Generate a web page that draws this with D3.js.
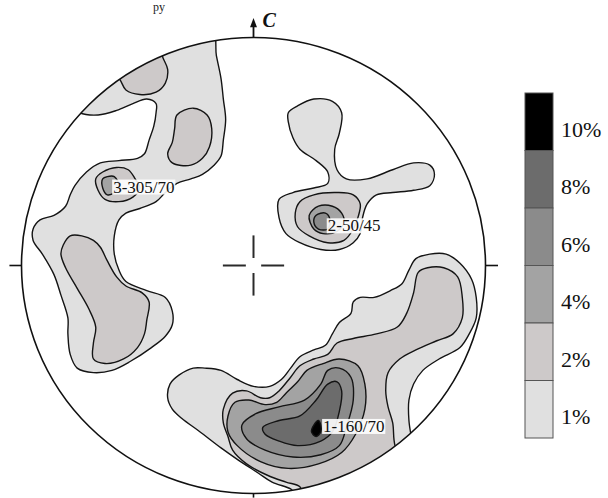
<!DOCTYPE html>
<html>
<head>
<meta charset="utf-8">
<script src="https://cdn.jsdelivr.net/npm/d3@7"></script>
<style>
body{margin:0;background:#fff;}
svg{display:block;}
</style>
</head>
<body>
<div id="net"></div>
<script>
// contour levels, legend order top -> bottom
var levels = ["10%","8%","6%","4%","2%","1%"];
var levelFill = {"1%":"#e0e0e0","2%":"#cdc9c9","4%":"#a3a3a3","6%":"#8b8b8b","8%":"#6c6c6c","10%":"#000000"};

// contour outlines in net coordinates (unit circle, y up)
var westBand1 = [[-0.18,1.03],[-0.16,0.92],[-0.14,0.82],[-0.13,0.73],[-0.12,0.64],[-0.13,0.55],[-0.14,0.48],[-0.17,0.44],
  [-0.22,0.40],[-0.27,0.38],[-0.33,0.36],[-0.38,0.32],[-0.42,0.28],[-0.49,0.25],[-0.55,0.23],[-0.58,0.20],[-0.60,0.13],
  [-0.60,0.05],[-0.58,-0.02],[-0.55,-0.07],[-0.46,-0.11],[-0.38,-0.14],[-0.35,-0.20],[-0.35,-0.26],[-0.38,-0.31],
  [-0.44,-0.36],[-0.53,-0.42],[-0.61,-0.46],[-0.69,-0.47],[-0.76,-0.45],[-0.79,-0.39],[-0.80,-0.30],[-0.80,-0.23],
  [-0.83,-0.13],[-0.86,-0.04],[-0.91,0.05],[-0.95,0.11],[-0.95,0.16],[-0.92,0.20],[-0.86,0.22],[-0.81,0.26],[-0.79,0.31],
  [-0.77,0.35],[-0.72,0.41],[-0.66,0.45],[-0.58,0.46],[-0.50,0.47],[-0.47,0.49],[-0.45,0.55],[-0.43,0.61],[-0.42,0.67],
  [-0.42,0.71],[-0.46,0.73],[-0.52,0.71],[-0.59,0.68],[-0.67,0.66],[-0.75,0.67],[-0.85,0.75],[-0.50,1.00]];
var westCap2 = [[-0.58,0.82],[-0.55,0.77],[-0.49,0.75],[-0.42,0.76],[-0.38,0.80],[-0.37,0.86],[-0.39,0.91],
  [-0.42,0.99],[-0.55,0.93],[-0.63,0.84]];
var westPod2 = [[-0.33,0.66],[-0.26,0.69],[-0.20,0.66],[-0.18,0.60],[-0.19,0.52],[-0.22,0.47],[-0.27,0.44],
  [-0.35,0.45],[-0.37,0.49],[-0.35,0.54],[-0.34,0.60]];
var westMax2 = [[-0.68,0.38],[-0.65,0.41],[-0.59,0.43],[-0.54,0.42],[-0.51,0.38],[-0.49,0.34],[-0.52,0.30],
  [-0.58,0.28],[-0.64,0.29],[-0.67,0.33]];
var westMax4 = [[-0.65,0.38],[-0.63,0.39],[-0.60,0.39],[-0.58,0.35],[-0.60,0.32],[-0.63,0.31],[-0.65,0.34]];
var westLong2 = [[-0.82,0.09],[-0.79,0.13],[-0.74,0.13],[-0.69,0.11],[-0.66,0.08],[-0.63,0.02],[-0.59,-0.05],
  [-0.55,-0.09],[-0.48,-0.12],[-0.45,-0.16],[-0.46,-0.24],[-0.47,-0.30],[-0.50,-0.36],[-0.56,-0.41],[-0.64,-0.43],
  [-0.69,-0.41],[-0.69,-0.34],[-0.68,-0.27],[-0.71,-0.19],[-0.76,-0.10],[-0.81,-0.01],[-0.83,0.05]];

var northLobe1 = [[0.15,0.67],[0.19,0.70],[0.26,0.73],[0.34,0.72],[0.38,0.67],[0.37,0.58],[0.35,0.51],[0.36,0.42],
  [0.40,0.38],[0.49,0.38],[0.60,0.42],[0.69,0.45],[0.76,0.44],[0.78,0.40],[0.76,0.35],[0.69,0.33],[0.60,0.32],
  [0.53,0.31],[0.49,0.27],[0.47,0.21],[0.46,0.14],[0.43,0.10],[0.37,0.07],[0.29,0.07],[0.20,0.10],[0.14,0.14],
  [0.11,0.21],[0.11,0.29],[0.17,0.32],[0.26,0.34],[0.32,0.36],[0.32,0.41],[0.27,0.46],[0.20,0.51],[0.17,0.56],[0.15,0.63]];
var northMax2 = [[0.20,0.28],[0.26,0.31],[0.36,0.32],[0.43,0.31],[0.46,0.27],[0.45,0.21],[0.43,0.16],[0.39,0.11],
  [0.32,0.10],[0.24,0.13],[0.19,0.17],[0.18,0.23]];
var northMax4 = [[0.24,0.22],[0.28,0.26],[0.34,0.26],[0.38,0.23],[0.39,0.19],[0.36,0.15],[0.30,0.14],[0.26,0.16]];
var northMax6 = [[0.26,0.19],[0.27,0.22],[0.31,0.23],[0.33,0.20],[0.32,0.16],[0.28,0.16]];

var southBand1 = [[-0.37,-0.58],[-0.36,-0.52],[-0.32,-0.48],[-0.26,-0.45],[-0.21,-0.45],[-0.14,-0.46],[-0.07,-0.50],
  [0.00,-0.53],[0.07,-0.53],[0.12,-0.50],[0.16,-0.45],[0.20,-0.40],[0.26,-0.37],[0.31,-0.35],[0.34,-0.30],[0.37,-0.25],
  [0.42,-0.21],[0.43,-0.16],[0.46,-0.14],[0.52,-0.14],[0.59,-0.11],[0.64,-0.08],[0.67,-0.02],[0.70,0.03],[0.76,0.05],
  [0.83,0.05],[0.89,0.01],[0.94,-0.06],[0.96,-0.14],[0.96,-0.23],[0.93,-0.30],[0.89,-0.36],[0.80,-0.41],[0.73,-0.46],
  [0.69,-0.52],[0.67,-0.59],[0.67,-0.68],[0.68,-0.75],[0.70,-0.85],[0.35,-1.05],[0.18,-1.00],[0.16,-0.98],[0.08,-0.95],
  [0.02,-0.91],[-0.07,-0.85],[-0.14,-0.80],[-0.23,-0.73],[-0.31,-0.67],[-0.35,-0.63]];
var southBand2 = [[-0.13,-0.63],[-0.09,-0.56],[-0.03,-0.55],[0.03,-0.58],[0.07,-0.58],[0.11,-0.55],[0.16,-0.49],
  [0.20,-0.44],[0.26,-0.41],[0.32,-0.39],[0.36,-0.34],[0.43,-0.32],[0.53,-0.30],[0.62,-0.27],[0.66,-0.21],[0.69,-0.12],
  [0.71,-0.03],[0.75,-0.01],[0.82,-0.01],[0.88,-0.05],[0.90,-0.14],[0.90,-0.23],[0.86,-0.30],[0.79,-0.33],[0.70,-0.37],
  [0.63,-0.41],[0.58,-0.47],[0.57,-0.55],[0.58,-0.62],[0.60,-0.69],[0.61,-0.79],[0.66,-0.90],[0.40,-1.05],[0.22,-1.02],
  [0.20,-0.97],[0.14,-0.95],[0.06,-0.92],[-0.03,-0.87],[-0.09,-0.81],[-0.11,-0.75],[-0.13,-0.69]];
var southMax4 = [[-0.11,-0.66],[-0.08,-0.60],[-0.02,-0.59],[0.05,-0.61],[0.10,-0.60],[0.14,-0.56],[0.19,-0.51],
  [0.23,-0.46],[0.30,-0.43],[0.37,-0.41],[0.45,-0.44],[0.48,-0.52],[0.48,-0.63],[0.44,-0.74],[0.38,-0.82],[0.28,-0.87],
  [0.15,-0.89],[0.03,-0.86],[-0.07,-0.79],[-0.11,-0.73]];
var southMax6 = [[-0.05,-0.70],[0.01,-0.65],[0.11,-0.62],[0.22,-0.59],[0.29,-0.52],[0.32,-0.46],[0.37,-0.45],
  [0.42,-0.49],[0.43,-0.59],[0.40,-0.71],[0.37,-0.79],[0.29,-0.83],[0.17,-0.84],[0.05,-0.81],[-0.03,-0.76]];
var southMax8 = [[0.04,-0.71],[0.11,-0.68],[0.20,-0.66],[0.27,-0.59],[0.32,-0.52],[0.36,-0.51],[0.38,-0.55],
  [0.37,-0.64],[0.34,-0.73],[0.29,-0.77],[0.19,-0.79],[0.11,-0.77],[0.05,-0.74]];
var southMax10 = [[0.25,-0.73],[0.26,-0.70],[0.28,-0.68],[0.29,-0.70],[0.29,-0.73],[0.27,-0.75]];

// density maxima labels (text start, baseline)
var maxLabels = ["1-160/70","2-50/45","3-305/70"];
var maxLabelX = [0.30, 0.32, -0.605];
var maxLabelY = [-0.73, 0.15, 0.32];

var contours = [
  {level:"1%", pts:westBand1}, {level:"1%", pts:northLobe1}, {level:"1%", pts:southBand1},
  {level:"2%", pts:westCap2}, {level:"2%", pts:westPod2}, {level:"2%", pts:westMax2}, {level:"2%", pts:westLong2},
  {level:"2%", pts:northMax2}, {level:"2%", pts:southBand2},
  {level:"4%", pts:westMax4}, {level:"4%", pts:northMax4}, {level:"4%", pts:southMax4},
  {level:"6%", pts:northMax6}, {level:"6%", pts:southMax6},
  {level:"8%", pts:southMax8}, {level:"10%", pts:southMax10}
];

var W = 608, H = 498;
var cx = 253.5, cy = 265.5, rx = 232, ry = 228;
var serif = "'Liberation Serif', 'Times New Roman', serif";

var svg = d3.select("#net").append("svg")
  .attr("width", W).attr("height", H);

var x = d3.scaleLinear().domain([-1,1]).range([cx-rx, cx+rx]);
var y = d3.scaleLinear().domain([-1,1]).range([cy+ry, cy-ry]);

// caption fragment above the figure
svg.append("text")
  .attr("x", 153).attr("y", 11)
  .style("font-family", serif).style("font-size","12px").style("fill","#222")
  .text("py");

svg.append("defs").append("clipPath").attr("id","netclip")
  .append("ellipse")
  .attr("cx", x(0)).attr("cy", y(0))
  .attr("rx", x(1)-x(0)).attr("ry", y(-1)-y(0));

var shape = d3.line()
  .x(function(d){ return x(d[0]); })
  .y(function(d){ return y(d[1]); })
  .curve(d3.curveCatmullRomClosed.alpha(0.5));

var g = svg.append("g").attr("clip-path","url(#netclip)");
g.selectAll("path")
  .data(contours)
  .enter().append("path")
  .attr("d", function(d){ return shape(d.pts); })
  .style("fill", function(d){ return levelFill[d.level]; })
  .style("stroke", "#141414")
  .style("stroke-width", "1.4px")
  .style("stroke-linejoin", "round");

// primitive circle
svg.append("ellipse")
  .attr("cx", x(0)).attr("cy", y(0))
  .attr("rx", x(1)-x(0)).attr("ry", y(-1)-y(0))
  .style("fill","none").style("stroke","#111").style("stroke-width","1.6px");

// centre cross
var arms = [[0.033,0],[-0.033,0],[0,0.033],[0,-0.033]];
svg.append("g").selectAll("line")
  .data(arms).enter().append("line")
  .attr("x1", function(d){ return x(d[0]); })
  .attr("y1", function(d){ return y(d[1]); })
  .attr("x2", function(d){ return x(d[0]*4); })
  .attr("y2", function(d){ return y(d[1]*4); })
  .style("stroke","#2a2a2a").style("stroke-width","2px");

// ticks W, E, S
var ticks = [[-1,0,-1.052,0],[1,0,1.054,0],[0,-1,0,-1.018]];
svg.append("g").selectAll("line")
  .data(ticks).enter().append("line")
  .attr("x1", function(d){ return x(d[0]); })
  .attr("y1", function(d){ return y(d[1]); })
  .attr("x2", function(d){ return x(d[2]); })
  .attr("y2", function(d){ return y(d[3]); })
  .style("stroke","#111").style("stroke-width","1.6px");

// north arrow with C
svg.append("line")
  .attr("x1", x(0)).attr("y1", y(1))
  .attr("x2", x(0)).attr("y2", y(1.065))
  .style("stroke","#111").style("stroke-width","1.8px");
svg.append("path")
  .attr("d", "M" + (x(0)-3.5) + "," + y(1.045) + "L" + x(0) + "," + y(1.085) + "L" + (x(0)+3.5) + "," + y(1.045) + "Z")
  .style("fill","#111");
svg.append("text")
  .attr("x", x(0)+9).attr("y", 27)
  .style("font-family", serif)
  .style("font-style","italic").style("font-weight","bold").style("font-size","20px").style("fill","#111")
  .text("C");

// maxima labels
var lab = svg.append("g").selectAll("g")
  .data(maxLabels).enter().append("g");
lab.append("rect")
  .attr("x", function(d,i){ return x(maxLabelX[i]) - 1; })
  .attr("y", function(d,i){ return y(maxLabelY[i]) - 13; })
  .attr("width", function(d){ return d.length*7.9; })
  .attr("height", 15)
  .style("fill","#fff").style("opacity",0.9);
lab.append("text")
  .attr("x", function(d,i){ return x(maxLabelX[i]); })
  .attr("y", function(d,i){ return y(maxLabelY[i]); })
  .style("font-family", serif)
  .style("font-size","17px").style("fill","#111")
  .text(function(d){ return d; });

// legend
var ly = d3.scaleBand().domain(levels).range([93, 438]);
var leg = svg.append("g");
leg.selectAll("rect")
  .data(levels).enter().append("rect")
  .attr("x", 525).attr("y", function(d){ return ly(d); })
  .attr("width", 28).attr("height", ly.bandwidth())
  .style("fill", function(d){ return levelFill[d]; })
  .style("stroke","#555").style("stroke-width","1px");
leg.selectAll("text")
  .data(levels).enter().append("text")
  .attr("x", 561)
  .attr("y", function(d){ return ly(d) + ly.bandwidth() - 14; })
  .style("font-family", serif)
  .style("font-size","22px").style("fill","#111")
  .text(function(d){ return d; });
</script>
</body>
</html>
